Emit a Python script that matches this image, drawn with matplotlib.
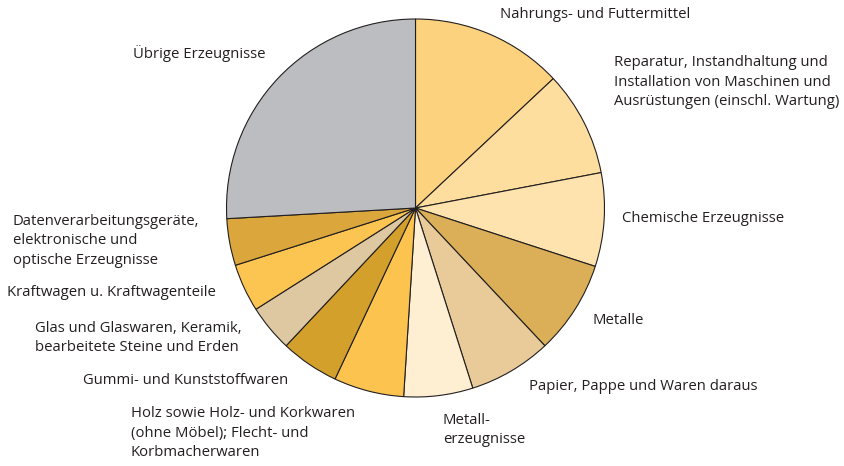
import matplotlib.pyplot as plt

# Anteile (in %), im Uhrzeigersinn ab 12 Uhr
kategorien = [
    'Nahrungs- und Futtermittel',
    'Reparatur, Instandhaltung und\nInstallation von Maschinen und\nAusrüstungen (einschl. Wartung)',
    'Chemische Erzeugnisse',
    'Metalle',
    'Papier, Pappe und Waren daraus',
    'Metall-\nerzeugnisse',
    'Holz sowie Holz- und Korkwaren\n(ohne Möbel); Flecht- und\nKorbmacherwaren',
    'Gummi- und Kunststoffwaren',
    'Glas und Glaswaren, Keramik,\nbearbeitete Steine und Erden',
    'Kraftwagen u. Kraftwagenteile',
    'Datenverarbeitungsgeräte,\nelektronische und\noptische Erzeugnisse',
    'Übrige Erzeugnisse',
]
anteile = [13.0, 9.0, 8.0, 8.0, 7.1, 5.9, 6.0, 5.0, 4.0, 4.1, 4.0, 25.9]
farben = ['#FDD27F', '#FDDE9E', '#FEE3AE', '#DAAF58', '#E8CB98', '#FEEFD2',
          '#FCC44F', '#D3A02B', '#DDC8A1', '#FCC552', '#DBA63B', '#BCBDC1']

# Position der Beschriftungen (Pixel, links oben als Ursprung)
label_pos = [(500, 15), (614, 82), (622, 218), (593, 320), (529, 387),
             (443, 430), (131, 433), (83, 381), (35, 338), (7, 293),
             (13, 241), (133, 53)]

W, H = 844, 466
fig = plt.figure(figsize=(W / 100, H / 100), dpi=100)
ax = fig.add_axes([0, 0, 1, 1])

ax.pie(anteile, colors=farben, startangle=90, counterclock=False,
       center=(415.5, H - 208), radius=189, frame=True,
       wedgeprops={'edgecolor': '#231f20', 'linewidth': 0.8})
ax.set_xlim(0, W)
ax.set_ylim(0, H)
ax.set_aspect('equal')
ax.axis('off')

for text, (x, y) in zip(kategorien, label_pos):
    ax.text(x, H - y, text, ha='left', va='center', fontsize=10.7,
            family='Open Sans', color='#231f20', linespacing=1.42)

fig.savefig('out.png', dpi=100)
